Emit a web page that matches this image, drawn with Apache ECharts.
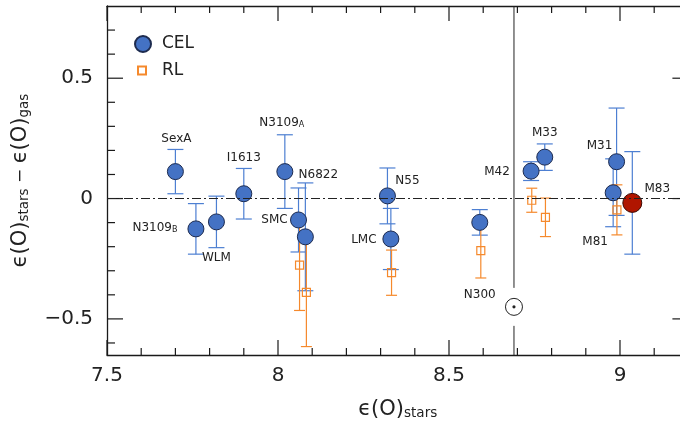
<!DOCTYPE html>
<html><head><meta charset="utf-8">
<script src="https://cdn.jsdelivr.net/npm/echarts@6/dist/echarts.min.js"></script>
<style>html,body{margin:0;padding:0;background:#fff}#c{width:680px;height:425px}</style>
</head><body><div id="c"></div>
<script>
// ---------------- data ----------------
const celNames = ['SexA','N3109_B','WLM','I1613','N3109_A','SMC','N6822','N55','LMC','N300','M42','M33','M31','M81'];
const celX   = [7.70, 7.76, 7.82, 7.90, 8.02, 8.06, 8.08, 8.32, 8.33, 8.59, 8.74, 8.78, 8.99, 8.98];
const celY   = [0.112, -0.126, -0.097, 0.020, 0.112, -0.089, -0.159, 0.011, -0.168, -0.099, 0.114, 0.172, 0.153, 0.024];
const celErr = [0.092, 0.105, 0.107, 0.105, 0.153, 0.133, 0.224, 0.116, 0.127, 0.053, 0.039, 0.055, 0.223, 0.141];

const rlNames = ['SMC','N6822','LMC','N300','M42','M33','M31'];
const rlX   = [8.063, 8.083, 8.332, 8.593, 8.742, 8.782, 8.991];
const rlY   = [-0.277, -0.390, -0.308, -0.216, -0.007, -0.078, -0.047];
const rlErr = [0.188, 0.225, 0.094, 0.114, 0.050, 0.080, 0.104];

const m83Names = ['M83'];
const m83X = [9.036];
const m83Y = [-0.018];
const m83Err = [0.213];

const solarX = [8.69];      // solar oxygen abundance (vertical line)
const sunY = [-0.45];       // position of the solar symbol
const zeroLine = 0;

const xMin = 7.5, xMax = 9.2, yMin = -0.65, yMax = 0.8;
const xTickLabels = [7.5, 8, 8.5, 9];
const xMinorTicks = [7.6, 7.7, 7.8, 7.9, 8.1, 8.2, 8.3, 8.4, 8.6, 8.7, 8.8, 8.9, 9.1];
const yTickLabels = [-0.5, 0, 0.5];
const yMinorTicks = [-0.6, -0.4, -0.3, -0.2, -0.1, 0.1, 0.2, 0.3, 0.4, 0.6, 0.7];

// ---------------- layout / style ----------------
const FONT = 'DejaVu Sans';
const TXT = '#222';
const INK = '#1a1a1a';
const PLOT = {left: 107, top: 6, width: 581.4, height: 349};
const TICKLEN = {xMajor: 15, xMinor: 7, yMajor: 16, yMinor: 8};

const labelOffsets = {
  'SexA':[1,-33], 'N3109_B':[-41,-1], 'WLM':[0,36], 'I1613':[0,-36], 'N3109_A':[-3,-49],
  'SMC':[-24,0], 'N6822':[13,-62], 'N55':[20,-15], 'LMC':[-27,1], 'N300':[0,72],
  'M42':[-34,1], 'M33':[0,-24], 'M31':[-17,-16], 'M81':[-18,49], 'M83':[25,-14]
};
const richLabel = {
  n: {fontSize: 12, fontFamily: FONT, color: TXT},
  s: {fontSize: 8, fontFamily: FONT, color: TXT, verticalAlign: 'bottom', lineHeight: 6}
};
const fmtName = s => {
  const p = s.split('_');
  return p.length > 1 ? `{n|${p[0]}}{s|${p[1]}}` : `{n|${s}}`;
};
const pointLabel = name => ({
  show: true, position: 'inside', offset: labelOffsets[name] || [0,0],
  formatter: fmtName(name), rich: richLabel
});

function errorBarSeries(name, xs, ys, es, color, capHalf, z) {
  return {
    type: 'custom', name: name, xAxisIndex: 0, yAxisIndex: 0, z: z, silent: true,
    data: xs.map((x, i) => [x, ys[i], es[i]]),
    renderItem: (params, api) => {
      const x = api.value(0), y = api.value(1), e = api.value(2);
      const hi = api.coord([x, y + e]), lo = api.coord([x, y - e]);
      const st = {stroke: color, lineWidth: 1.2};
      return {type: 'group', children: [
        {type: 'line', shape: {x1: hi[0], y1: hi[1], x2: lo[0], y2: lo[1]}, style: st},
        {type: 'line', shape: {x1: hi[0]-capHalf, y1: hi[1], x2: hi[0]+capHalf, y2: hi[1]}, style: st},
        {type: 'line', shape: {x1: lo[0]-capHalf, y1: lo[1], x2: lo[0]+capHalf, y2: lo[1]}, style: st}
      ]};
    }
  };
}

// frame ticks, computed through the cartesian scales inside a renderItem
function frameTicks(api) {
  const kids = [];
  const st = {stroke: INK, lineWidth: 1.2};
  const addX = (v, len) => {
    const b = api.coord([v, yMin]), t = api.coord([v, yMax]);
    kids.push({type: 'line', shape: {x1: b[0], y1: b[1], x2: b[0], y2: b[1] - len}, style: st});
    kids.push({type: 'line', shape: {x1: t[0], y1: t[1], x2: t[0], y2: t[1] + len}, style: st});
  };
  const addY = (v, len) => {
    const l = api.coord([xMin, v]), r = api.coord([xMax, v]);
    kids.push({type: 'line', shape: {x1: l[0], y1: l[1], x2: l[0] + len, y2: l[1]}, style: st});
    kids.push({type: 'line', shape: {x1: r[0], y1: r[1], x2: r[0] - len, y2: r[1]}, style: st});
  };
  xTickLabels.forEach(v => addX(v, TICKLEN.xMajor));
  xMinorTicks.forEach(v => addX(v, TICKLEN.xMinor));
  yTickLabels.forEach(v => addY(v, TICKLEN.yMajor));
  yMinorTicks.forEach(v => addY(v, TICKLEN.yMinor));
  return kids;
}

const axisLineStyle = {color: INK, width: 1.3};
function frameAx(pos, isX) {
  return {
    type: 'value', gridIndex: 0, position: pos,
    min: isX ? xMin : yMin, max: isX ? xMax : yMax,
    splitLine: {show: false},
    axisLine: {show: true, onZero: false, lineStyle: axisLineStyle},
    axisTick: {show: false}, axisLabel: {show: false}
  };
}

const xMain = frameAx('bottom', true);
xMain.axisLabel = {show: true, customValues: xTickLabels, margin: 11, fontSize: 20, fontFamily: FONT, color: TXT,
  formatter: v => String(v)};
xMain.name = '{m|ϵ(O)}{s|stars}';
xMain.nameLocation = 'middle';
xMain.nameGap = 44;
xMain.nameTextStyle = {rich: {
  m: {fontSize: 21, fontFamily: FONT, color: TXT},
  s: {fontSize: 13.5, fontFamily: FONT, color: TXT, verticalAlign: 'bottom', lineHeight: 11}
}};

const yMain = frameAx('left', false);
yMain.axisLabel = {show: true, customValues: yTickLabels, margin: 14, fontSize: 20, fontFamily: FONT, color: TXT,
  formatter: v => (v < 0 ? '\u2212' + Math.abs(v) : String(v))};
yMain.name = '{m|ϵ(O)}{s|stars}{o| \u2212 }{m|ϵ(O)}{s|gas}';
yMain.nameLocation = 'middle';
yMain.nameRotate = 90;
yMain.nameGap = 76;
yMain.nameTextStyle = {rich: {
  m: {fontSize: 21, fontFamily: FONT, color: TXT},
  o: {fontSize: 17, fontFamily: FONT, color: TXT},
  s: {fontSize: 13.5, fontFamily: FONT, color: TXT, verticalAlign: 'bottom', lineHeight: 11}
}};

const option = {
  animation: false,
  backgroundColor: '#fff',
  grid: Object.assign({containLabel: false, outerBoundsMode: 'none'}, PLOT),
  xAxis: [xMain, frameAx('top', true)],
  yAxis: [yMain, frameAx('right', false)],
  legend: [
    {data: [{name: 'CEL', icon: 'circle'}], left: 134, top: 35, padding: 0, itemWidth: 16, itemHeight: 16,
     selectedMode: false, textStyle: {fontSize: 17, fontFamily: FONT, color: TXT, padding: [0,0,0,6]}},
    {data: [{name: 'RL', icon: 'rect'}], left: 137, top: 62, padding: 0, itemWidth: 8, itemHeight: 8,
     selectedMode: false, textStyle: {fontSize: 17, fontFamily: FONT, color: TXT, padding: [0,0,0,11]}}
  ],
  series: [
    {
      type: 'custom', name: 'Sun', xAxisIndex: 0, yAxisIndex: 0, z: 1, silent: true,
      data: solarX.map((x, i) => [x, sunY[i]]),
      renderItem: (params, api) => {
        const x = api.value(0), y = api.value(1);
        const c = api.coord([x, y]);
        const top = api.coord([x, yMax])[1], bot = api.coord([x, yMin])[1];
        const st = {stroke: '#222', lineWidth: 1};
        const kids = [
          {type: 'line', shape: {x1: c[0], y1: top, x2: c[0], y2: c[1]-19}, style: st},
          {type: 'line', shape: {x1: c[0], y1: c[1]+19, x2: c[0], y2: bot}, style: st},
          {type: 'circle', shape: {cx: c[0], cy: c[1], r: 8.5}, style: {fill: 'none', stroke: '#222', lineWidth: 1}},
          {type: 'circle', shape: {cx: c[0], cy: c[1], r: 1.6}, style: {fill: '#222'}}
        ];
        return {type: 'group', children: kids.concat(frameTicks(api))};
      },
      markLine: {
        silent: true, symbol: 'none', label: {show: false},
        lineStyle: {color: '#222', width: 1, type: [9, 3, 2, 3]},
        data: [{yAxis: zeroLine}]
      }
    },
    errorBarSeries('CEL err', celX, celY, celErr, '#4d7fd2', 8, 2),
    errorBarSeries('M83 err', m83X, m83Y, m83Err, '#4d7fd2', 8, 2),
    errorBarSeries('RL err', rlX, rlY, rlErr, '#f5892c', 5.5, 2),
    {
      type: 'scatter', name: 'RL', xAxisIndex: 0, yAxisIndex: 0, z: 3, symbol: 'rect', symbolSize: 8,
      itemStyle: {color: 'rgba(255,255,255,0)', borderColor: '#f5892c', borderWidth: 1.2, opacity: 1},
      emphasis: {disabled: true},
      data: rlX.map((x, i) => ({name: rlNames[i], value: [x, rlY[i]]}))
    },
    {
      type: 'scatter', name: 'CEL', xAxisIndex: 0, yAxisIndex: 0, z: 4, symbol: 'circle', symbolSize: 16,
      itemStyle: {color: '#4472c4', borderColor: '#1d2b4f', borderWidth: 1, opacity: 1},
      emphasis: {disabled: true},
      data: celX.map((x, i) => ({name: celNames[i], value: [x, celY[i]], label: pointLabel(celNames[i])}))
    },
    {
      type: 'scatter', name: 'M83', xAxisIndex: 0, yAxisIndex: 0, z: 4, symbol: 'circle', symbolSize: 19,
      itemStyle: {color: '#b01500', borderColor: '#3b0800', borderWidth: 1, opacity: 1},
      emphasis: {disabled: true},
      data: m83X.map((x, i) => ({name: m83Names[i], value: [x, m83Y[i]], label: pointLabel(m83Names[i])}))
    }
  ]
};

const chart = echarts.init(document.getElementById('c'), null, {renderer: 'canvas', width: 680, height: 425});
chart.setOption(option);
</script>
</body></html>
